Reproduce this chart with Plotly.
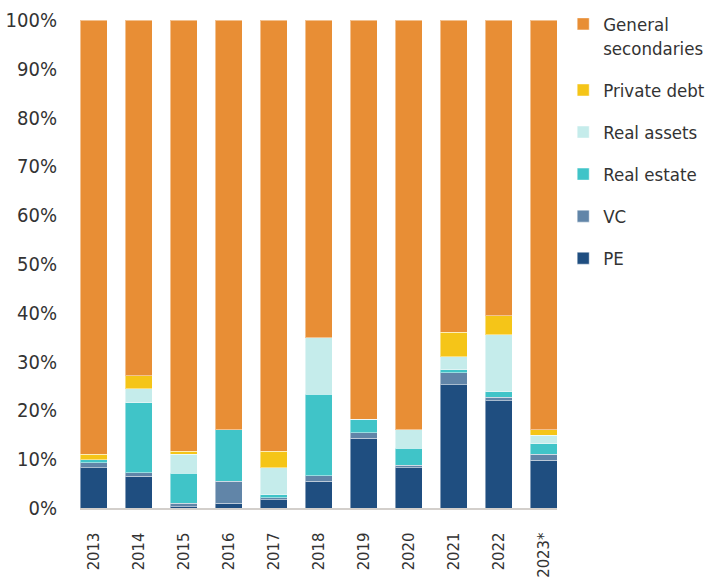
import plotly.graph_objects as go

years = ["2013", "2014", "2015", "2016", "2017", "2018", "2019", "2020", "2021", "2022", "2023*"]

pe = [8.2, 6.5, 0.3, 1.0, 1.7, 5.5, 14.3, 8.2, 25.3, 22.0, 9.8]
vc = [1.1, 0.7, 0.7, 4.5, 0.4, 1.1, 1.1, 0.6, 2.4, 0.7, 1.2]
real_estate = [0.6, 14.4, 6.1, 10.5, 0.6, 16.7, 2.8, 3.4, 0.6, 1.1, 2.2]
real_assets = [0.0, 2.8, 3.9, 0.0, 5.6, 11.6, 0.0, 3.8, 2.7, 11.7, 1.7]
private_debt = [1.1, 2.7, 0.6, 0.0, 3.3, 0.0, 0.0, 0.0, 5.0, 3.9, 1.1]
general_secondaries = [89.0, 72.9, 88.4, 84.0, 88.4, 65.1, 81.8, 84.0, 64.0, 60.6, 84.0]

# stacked bottom to top; legend lists them top to bottom
series = [
    ("PE", pe, "#1F4E80"),
    ("VC", vc, "#6185A8"),
    ("Real estate", real_estate, "#40C4C8"),
    ("Real assets", real_assets, "#C5ECEB"),
    ("Private debt", private_debt, "#F5C518"),
    ("General<br>secondaries", general_secondaries, "#E88E35"),
]

FONT = "DejaVu Sans Condensed, sans-serif"
TEXT = "#333333"

fig = go.Figure()
for i, (name, vals, color) in enumerate(series):
    fig.add_trace(go.Bar(
        x=years,
        y=vals,
        name=name,
        legendgroup=f"g{i}",
        legendrank=len(series) - i,
        marker=dict(color=color, line=dict(color="rgba(255,255,255,0.45)", width=1)),
        hoverinfo="skip",
    ))

fig.update_layout(
    barmode="stack",
    bargap=0.4,
    width=707,
    height=581,
    margin=dict(l=80, r=150, t=20, b=73, autoexpand=False),
    paper_bgcolor="white",
    plot_bgcolor="white",
    font=dict(family=FONT, size=20, color=TEXT),
    showlegend=True,
    legend=dict(
        x=1.013, xanchor="left",
        y=1.03, yanchor="top",
        traceorder="grouped",
        tracegroupgap=15,
        valign="top",
        itemwidth=30,
        font=dict(family=FONT, size=18.5, color=TEXT),
        bgcolor="rgba(0,0,0,0)",
    ),
    xaxis=dict(
        tickangle=-90,
        range=[-0.3, 10.3],
        showgrid=False,
        showline=True,
        linecolor="#D3CFCB",
        linewidth=2,
        ticks="",
        ticklabelstandoff=16,
        tickfont=dict(family=FONT, size=16.5, color=TEXT),
    ),
    yaxis=dict(
        range=[0, 100],
        tickvals=[0, 10, 20, 30, 40, 50, 60, 70, 80, 90, 100],
        ticktext=[f"{v}%" for v in range(0, 101, 10)],
        showgrid=False,
        zeroline=False,
        showline=False,
        ticks="",
        ticklabelstandoff=22,
        tickfont=dict(family=FONT, size=20, color=TEXT),
    ),
)

fig.write_html("out.html")
